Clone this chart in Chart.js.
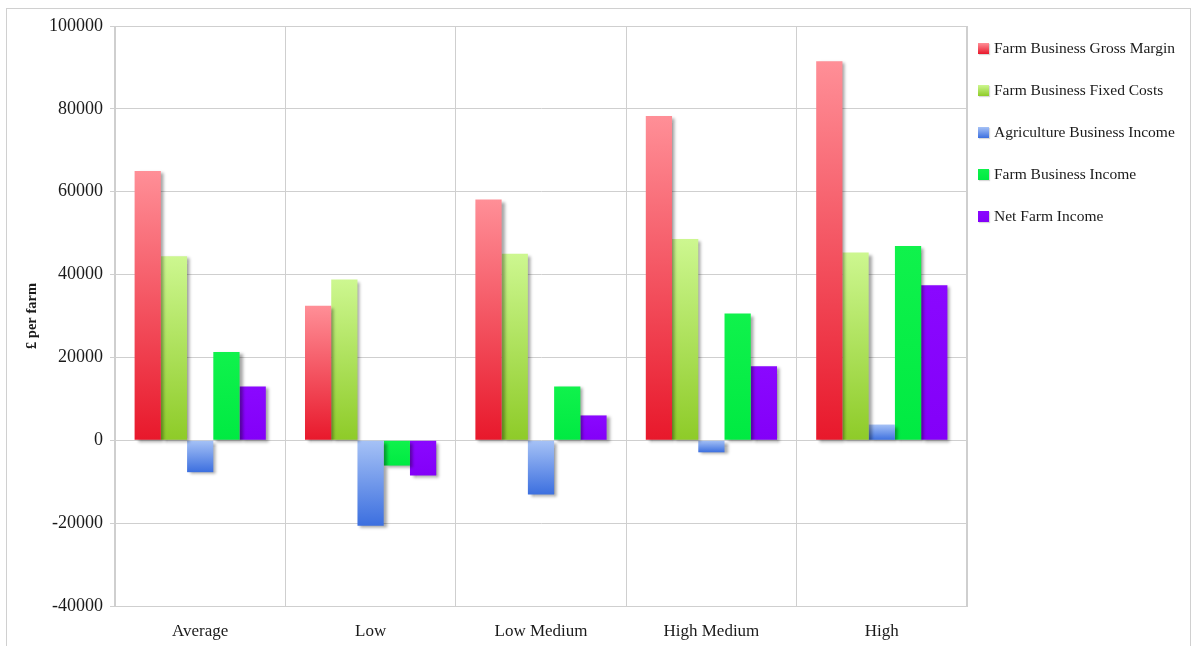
<!DOCTYPE html>
<html><head><meta charset="utf-8">
<script src="https://cdn.jsdelivr.net/npm/chart.js@4"></script>
<style>
html,body{margin:0;padding:0;background:#fff;}
#wrap{position:relative;width:1194px;height:646px;overflow:hidden}
#frame{position:absolute;left:6px;top:8px;width:1183px;height:650px;border:1px solid #d0d0d0;pointer-events:none}
canvas{position:absolute;left:0;top:0}
#legend{position:absolute;left:978px;top:27px;margin:0;padding:0;list-style:none;font-family:"Liberation Serif","Times New Roman",serif;font-size:15.5px;color:#1a1a1a}
#legend li{height:42px;display:flex;align-items:center;white-space:nowrap}
#legend span.box{display:inline-block;width:11px;height:11px;margin-right:5px;box-shadow:1px 1px 1px rgba(0,0,0,0.15)}
</style></head><body>
<div id="wrap"><canvas id="c" width="1194" height="646"></canvas><ul id="legend"></ul><div id="frame"></div></div>
<script>
const categories = ['Average', 'Low', 'Low Medium', 'High Medium', 'High'];
const grossMargin = [65000, 32500, 58100, 78300, 91500];
const fixedCosts  = [44400, 38800, 45000, 48600, 45300];
const agriIncome  = [-7700, -20600, -13100, -2900, 3800];
const farmIncome  = [21300, -6100, 13000, 30600, 46900];
const netIncome   = [13000, -8500, 6000, 17900, 37400];
const seriesNames = ['Farm Business Gross Margin', 'Farm Business Fixed Costs', 'Agriculture Business Income', 'Farm Business Income', 'Net Farm Income'];
const yMin = -40000, yMax = 100000, yStep = 20000;

const lightCols = ['#ff8f97', '#cdf790', '#a6c2f6', '#10f24c', '#8a08ff'];
const darkCols  = ['#e8182b', '#8ecb28', '#3c6fdf', '#00ea42', '#8300f8'];

function grad(i) {
  return (ctx) => {
    const chart = ctx.chart;
    const y = chart.scales && chart.scales.y;
    if (!y || ctx.type !== 'data' || !chart.chartArea) return darkCols[i];
    const p0 = y.getPixelForValue(0), p1 = y.getPixelForValue(ctx.raw);
    const top = Math.min(p0, p1), bot = Math.max(p0, p1);
    if (bot - top < 1) return darkCols[i];
    const g = chart.ctx.createLinearGradient(0, top, 0, bot);
    g.addColorStop(0, lightCols[i]);
    g.addColorStop(1, darkCols[i]);
    return g;
  };
}

const shadowPlugin = {
  id: 'barShadow',
  beforeDatasetsDraw(chart) {
    const c = chart.ctx; c.save();
    c.shadowColor = 'rgba(0,0,0,0.35)'; c.shadowOffsetX = 3; c.shadowOffsetY = 2; c.shadowBlur = 3;
  },
  afterDatasetsDraw(chart) { chart.ctx.restore(); }
};

const seriesData = [grossMargin, fixedCosts, agriIncome, farmIncome, netIncome];
const FONT = '"Liberation Serif", "Times New Roman", serif';

const chart = new Chart(document.getElementById('c'), {
  type: 'bar',
  data: {
    labels: categories,
    datasets: seriesData.map((d, i) => ({
      label: seriesNames[i], data: d, backgroundColor: grad(i), borderWidth: 0,
      categoryPercentage: 0.77, barPercentage: 1
    }))
  },
  options: {
    responsive: false, animation: false, devicePixelRatio: 1,
    layout: { padding: { top: 26, left: 0, right: 227, bottom: 0 } },
    plugins: { tooltip: { enabled: false }, legend: { display: false } },
    scales: {
      x: {
        grid: { color: '#cfcfcf', drawTicks: false, offset: true },
        border: { color: '#cfcfcf' },
        ticks: { font: { family: FONT, size: 17 }, color: '#1a1a1a', padding: 15 },
        afterFit(s) { s.height = 40; }
      },
      y: {
        min: yMin, max: yMax,
        grid: { color: '#cfcfcf', tickLength: 5 },
        border: { color: '#cfcfcf' },
        ticks: { stepSize: yStep, font: { family: FONT, size: 18 }, color: '#1a1a1a', padding: 7, callback: v => String(v) },
        title: { display: true, text: '£ per farm', font: { family: FONT, size: 14.5, weight: 'bold' }, color: '#1a1a1a', padding: { top: 24, bottom: 0 } },
        afterFit(s) { s.width = 115; }
      }
    }
  },
  plugins: [shadowPlugin, {
    id: 'plotBorder',
    afterDraw(chart) {
      const a = chart.chartArea, c = chart.ctx;
      c.save(); c.strokeStyle = '#cfcfcf'; c.lineWidth = 1;
      c.strokeRect(Math.round(a.left) + 0.5, Math.round(a.top) + 0.5, Math.round(a.right - a.left) - 1, Math.round(a.bottom - a.top));
      c.restore();
    }
  }]
});

// HTML legend built from the chart's datasets
const ul = document.getElementById('legend');
chart.data.datasets.forEach((ds, i) => {
  const li = document.createElement('li');
  const box = document.createElement('span');
  box.className = 'box';
  box.style.background = 'linear-gradient(' + lightCols[i] + ',' + darkCols[i] + ')';
  li.appendChild(box);
  li.appendChild(document.createTextNode(ds.label));
  ul.appendChild(li);
});
</script>
</body></html>
